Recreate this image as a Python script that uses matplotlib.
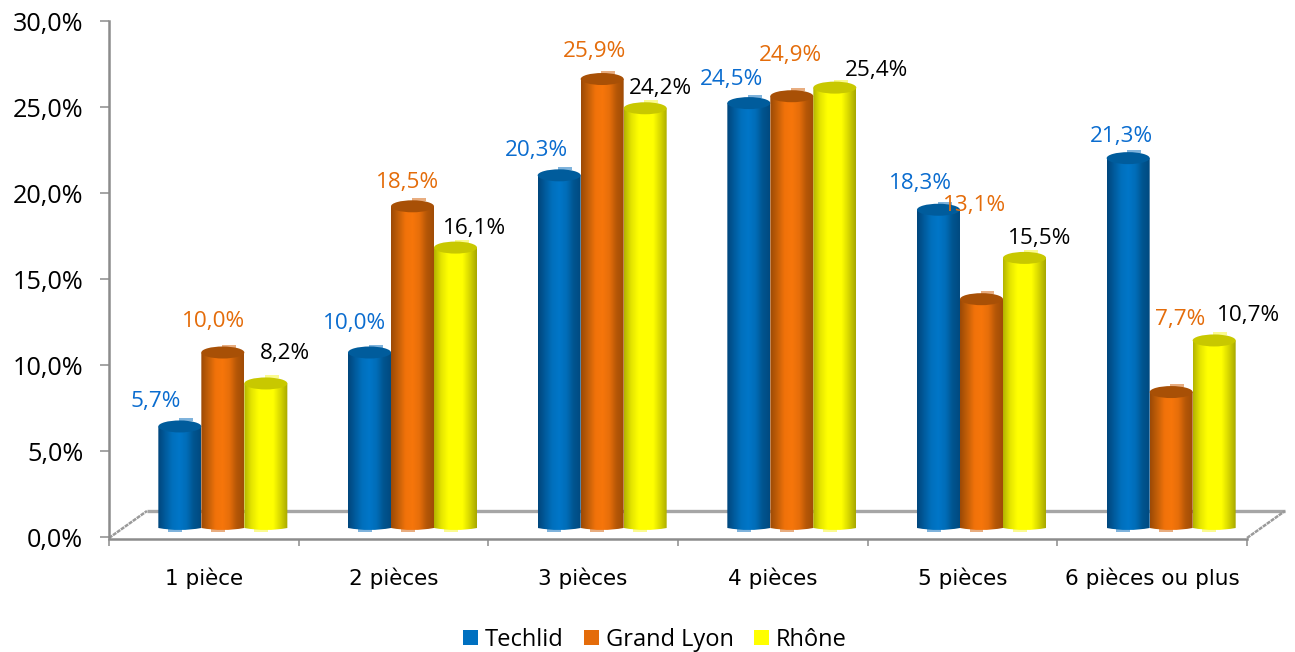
import numpy as np
import matplotlib
matplotlib.use("Agg")
import matplotlib.pyplot as plt
from matplotlib.colors import LinearSegmentedColormap
from matplotlib.patches import Ellipse, Patch, Rectangle
from matplotlib.path import Path

categories = ["1 pièce", "2 pièces", "3 pièces", "4 pièces", "5 pièces", "6 pièces ou plus"]
series_names = ["Techlid", "Grand Lyon", "Rhône"]
techlid = [5.7, 10.0, 20.3, 24.5, 18.3, 21.3]
grand_lyon = [10.0, 18.5, 25.9, 24.9, 13.1, 7.7]
rhone = [8.2, 16.1, 24.2, 25.4, 15.5, 10.7]
y_ticks = [0, 5, 10, 15, 20, 25, 30]

# styles
legend_colors = ["#0070c0", "#e46c0a", "#ffff00"]
label_colors = ["#0a6ccf", "#e46c0a", "#000000"]
gradients = [
    ["#00467c", "#005c9e", "#0070bd", "#0076c8", "#006db8", "#005590", "#004a80"],
    ["#9c4a06", "#c45f08", "#f0720a", "#f7760a", "#e66e0a", "#b65707", "#a04c06"],
    ["#b4b400", "#e6e600", "#ffff00", "#ffff00", "#ffff00", "#d8d800", "#a8a800"],
]
cap_colors = ["#005c9c", "#a85006", "#c8c800"]
tab_colors = ["#7fb3dc", "#e8ad80", "#fbfb90"]
GRAY = "#8c8c8c"
FONT = "Open Sans"

# label offsets from the top of each bar, pixels
label_dx = [[-24, -9, 19], [-15, -5, 19], [-23, -8, 15], [-17, -1, 42], [-18, -7, 15], [-7, 9, 34]]
label_dy = [[28, 34, 33], [32, 27, 23], [28, 31, 23], [27, 44, 21], [30, 97, 23], [25, 76, 28]]

W, H = 1295, 652
fig = plt.figure(figsize=(W / 100, H / 100), dpi=100)
ax = fig.add_axes([109 / W, (H - 537) / H, (1247 - 109) / W, (537 - 21) / H])
ax.set_xlim(-0.5, 5.5)
ax.set_ylim(0, 30)

px_x = 6 / (1247 - 109)
px_y = 30 / (537 - 21)
base = 9 * px_y
lift = 3.5 * px_y
bar_w = 43 * px_x
shift = 19 * px_x
cap_h = 12 * px_y
arc_h = 2 * px_y

# floor
ax.plot([-0.3, 5.7], [26 * px_y] * 2, color="#a6a6a6", lw=2.4, clip_on=False, zorder=1, solid_capstyle="butt")
for x0, x1 in [(-0.5, -0.3), (5.5, 5.7)]:
    ax.plot([x0, x1], [-1 * px_y, 26 * px_y], color="#9a9a9a", lw=1.8, ls=(0, (1.6, 0.35)), clip_on=False, zorder=1)

series = [techlid, grand_lyon, rhone]
grad = np.linspace(0, 1, 64)[None, :]
for s, vals in enumerate(series):
    cmap = LinearSegmentedColormap.from_list(f"g{s}", gradients[s])
    for i, v in enumerate(vals):
        xc = i + shift + (s - 1) * 43 * px_x
        l, r = xc - bar_w / 2, xc + bar_w / 2
        top = base + v + lift
        z = 3 + s * 0.1
        ax.add_patch(Rectangle((xc - 1 * px_x, top + cap_h / 2 - 1 * px_y), 14 * px_x, 3 * px_y,
                               fc=tab_colors[s], ec="none", zorder=z - 0.05, clip_on=False))
        ax.add_patch(Rectangle((xc - 12 * px_x, base - 3.5 * px_y), 14 * px_x, 4 * px_y,
                               fc=tab_colors[s], ec="none", zorder=z - 0.05))
        im = ax.imshow(grad, cmap=cmap, extent=(l, r, base - arc_h, top), aspect="auto",
                       zorder=z, interpolation="bilinear")
        clip = Path([(l, top), (l, base), (xc, base - 2 * arc_h), (r, base), (r, top), (l, top)],
                    [Path.MOVETO, Path.LINETO, Path.CURVE3, Path.CURVE3, Path.LINETO, Path.CLOSEPOLY])
        im.set_clip_path(clip, transform=ax.transData)
        ax.add_patch(Ellipse((xc, top), bar_w, cap_h, fc=cap_colors[s], ec="none", zorder=z + 0.01, clip_on=False))
        ax.annotate(f"{v:.1f}%".replace(".", ","), (xc, base + v), xytext=(label_dx[i][s], label_dy[i][s]),
                    textcoords="offset pixels", ha="center", va="center", color=label_colors[s],
                    fontsize=16.2, family=FONT, zorder=6, annotation_clip=False)

ax.set_xlim(-0.5, 5.5)
ax.set_ylim(0, 30)

ax.set_xticks(np.arange(0.5 - 1, 6, 1), minor=True)
ax.set_xticks(range(len(categories)), categories)
ax.set_yticks(y_ticks, [f"{t:.1f}%".replace(".", ",") for t in y_ticks])
ax.tick_params(axis="x", which="major", length=0, pad=20.5, labelsize=15.5)
ax.tick_params(axis="x", which="minor", length=5, width=1.1, color=GRAY)
ax.tick_params(axis="y", length=6.5, width=1.1, color=GRAY, pad=12, labelsize=18.2)
for lab in ax.get_xticklabels() + ax.get_yticklabels():
    lab.set_family(FONT)
    lab.set_color("#000000")
for side in ("top", "right"):
    ax.spines[side].set_visible(False)
for side in ("left", "bottom"):
    ax.spines[side].set_color(GRAY)
    ax.spines[side].set_linewidth(1.8)
ax.spines["bottom"].set_position(("outward", 1.2))
ax.patch.set_visible(False)

handles = [Patch(fc=c, ec="none") for c in legend_colors]
fig.legend(handles, series_names, loc="center", bbox_to_anchor=(655 / W, (H - 640) / H), ncol=3, frameon=False,
           prop={"family": FONT, "size": 17}, handlelength=0.62, handleheight=0.62, handletextpad=0.3,
           columnspacing=0.87, borderpad=0, borderaxespad=0)

fig.savefig("out.png", dpi=100)
